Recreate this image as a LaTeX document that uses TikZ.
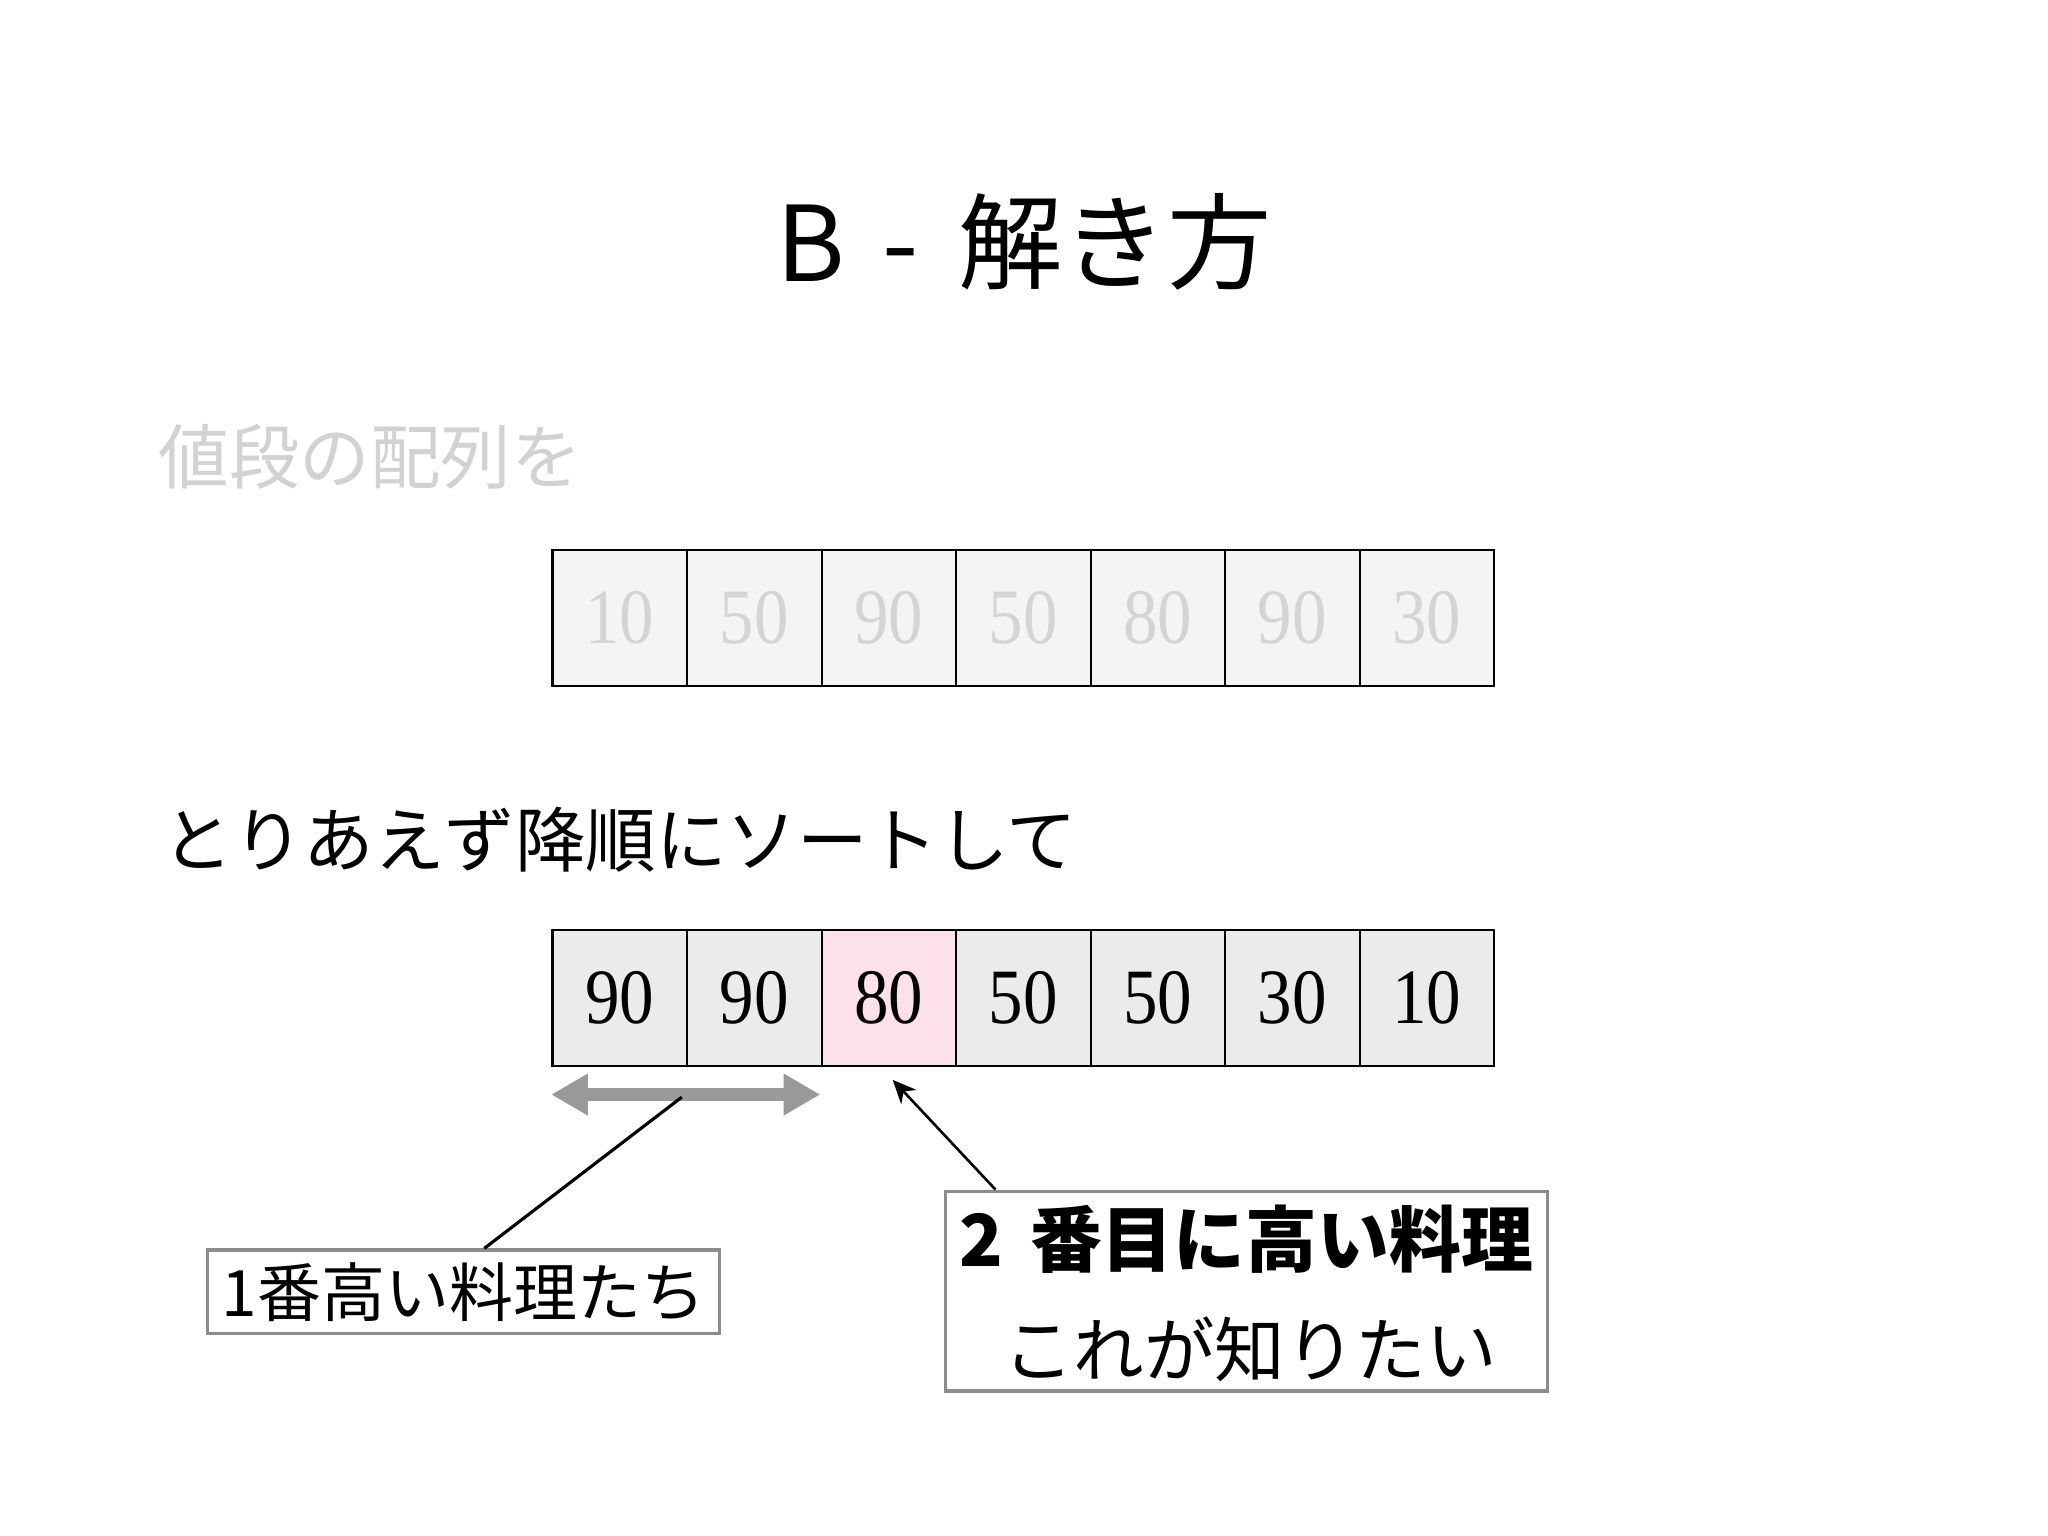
\documentclass[tikz,border=0pt]{standalone}
\usepackage{fontspec}
\newfontfamily\jp{Noto Sans CJK JP}
\newfontfamily\num{Liberation Serif}[FakeStretch=0.88]
\usetikzlibrary{arrows.meta,calc}
\definecolor{lightfill}{HTML}{F4F4F4}
\definecolor{lighttext}{HTML}{D4D4D4}
\definecolor{cellfill}{HTML}{EBEBEB}
\definecolor{pinkfill}{HTML}{FDE1EA}
\definecolor{boxgray}{HTML}{8C8C8C}
\definecolor{arrowgray}{HTML}{999999}
\definecolor{faded}{HTML}{D2D2D2}
\begin{document}
\begin{tikzpicture}[x=0.5pt,y=-0.5pt,
  cellbase/.style={draw=black, line width=0.8pt, minimum width=51.5pt, minimum height=52pt, inner sep=0pt,
    font=\num\fontsize{30}{30}\selectfont},
  topcell/.style={cellbase, fill=lightfill, text=lighttext},
  botcell/.style={cellbase, fill=cellfill, text=black},
  jptext/.style={inner sep=0pt, font=\jp\fontsize{27}{27}\selectfont},
  labelbox/.style={draw=boxgray, line width=1.2pt, inner sep=0pt, fill=white},
]
\useasboundingbox (0,0) rectangle (1568,1176);
\fill[white] (0,0) rectangle (1568,1176);

% title
\node[inner sep=0pt, font=\jp\fontsize{40}{40}\selectfont] (title) at (784,185) {B\hspace{0.36em}-\hspace{0.38em}解き方};

% first caption
\node[jptext, text=faded, anchor=west] (cap1) at (121,350) {値段の配列を};

% top array
\foreach \v [count=\i] in {10,50,90,50,80,90,30}
  \node[topcell] (t\i) at ({423+103*(\i-0.5)},473) {\v};

% second caption
\node[jptext, anchor=west] (cap2) at (124,643) {とりあえず降順にソートして};

% bottom array
\foreach \v [count=\i] in {90,90,80,50,50,30,10}
  \node[botcell] (b\i) at ({423+103*(\i-0.5)},764) {\v};
\node[botcell, fill=pinkfill] (b3) at ({423+103*2.5},764) {80};

% double arrow under first two cells
\coordinate (dl) at (422,838);
\coordinate (dr) at (628,838);
\coordinate (dm) at (522,840);
\draw[arrowgray, line width=5pt, {Triangle[width=15pt,length=14pt]}-{Triangle[width=15pt,length=14pt]}] (dl) -- (dr);

% label box 1
\node[labelbox, minimum width=196pt, minimum height=32pt, jptext, font=\jp\fontsize{24.5}{24.5}\selectfont] (box1) at (355,989) {1番高い料理たち};
\draw[black, line width=1.2pt] (dm) -- ($(box1.north west)!0.54!(box1.north east)$);

% label box 2
\node[labelbox, minimum width=230.5pt, minimum height=76.5pt] (box2) at (954.5,988.5) {};
\node[jptext, font=\jp\bfseries\fontsize{27.5}{27.5}\selectfont] (l1) at (954,949) {2\hspace{0.15em} 番目に高い料理};
\node[jptext] (l2) at (957,1033) {これが知りたい};
\coordinate (tip) at ($(b3.south)+(3,10)$);
\draw[black, line width=1pt, -{Stealth[length=9pt,width=8pt]}] ($(box2.north west)!0.085!(box2.north east)$) -- (tip);
\end{tikzpicture}
\end{document}
